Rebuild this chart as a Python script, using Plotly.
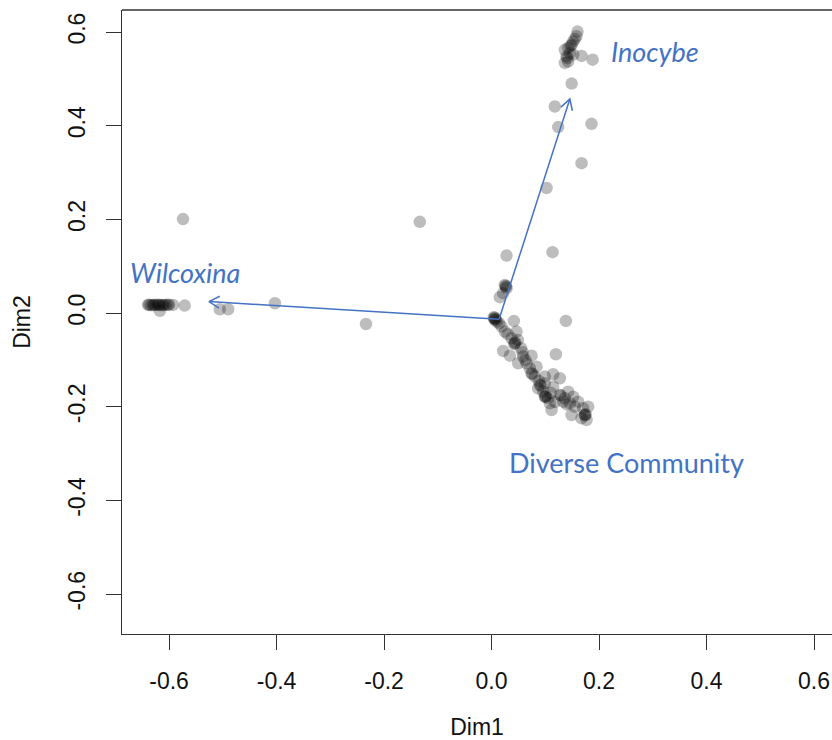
import plotly.graph_objects as go
import math

# ---- data: site scores (Dim1, Dim2) ----
dim1 = [
    # Wilcoxina group
    -0.639, -0.637, -0.634, -0.630, -0.628, -0.625, -0.6205, -0.619, -0.616, -0.612, -0.610, -0.606,
    -0.602, -0.600, -0.5926, -0.617, -0.5708,
    -0.574, -0.5057, -0.490, -0.403, -0.2336, -0.1335,
    # Inocybe group
    0.160, 0.158, 0.155, 0.152, 0.149, 0.147, 0.1426, 0.1364, 0.1457, 0.1396, 0.1410, 0.1426, 0.1364,
    0.152, 0.1675, 0.188,
    0.149, 0.1178, 0.124, 0.186, 0.1675, 0.1024,
    # upper part of diverse group
    0.0279, 0.1135, 0.0248, 0.0260, 0.0270, 0.0279, 0.0216, 0.0154, 0.0043, 0.0060, 0.0050,
    # diverse community
    0.0061, 0.0075, 0.0100, 0.0141, 0.0186, 0.0415, 0.1383, 0.0248, 0.0465, 0.0372, 0.0434, 0.0440,
    0.0420, 0.0489, 0.0216, 0.0341, 0.0577, 0.0588, 0.0744, 0.1197, 0.0495, 0.0651, 0.0837, 0.0713,
    0.0744, 0.0760, 0.0806, 0.0992, 0.1146, 0.1271, 0.0899, 0.0920, 0.0992, 0.1146, 0.0867, 0.0960,
    0.0992, 0.1000, 0.1010, 0.1053, 0.1271, 0.1290, 0.1426, 0.1519, 0.1364, 0.1612, 0.1085, 0.1117,
    0.1333, 0.1457, 0.1489, 0.1736, 0.1740, 0.1750, 0.1705, 0.1798, 0.1675, 0.1768, 0.0300, 0.0550,
    0.0630, 0.0880, 0.1100, 0.1180, 0.1400, 0.1550,
]
dim2 = [
    0.0175, 0.0180, 0.0170, 0.0175, 0.0170, 0.0180, 0.0175, 0.0180, 0.0170, 0.0175, 0.0170, 0.0180,
    0.0175, 0.0180, 0.0175, 0.005, 0.016,
    0.2006, 0.0083, 0.0083, 0.021, -0.0233, 0.1948,
    0.601, 0.591, 0.585, 0.580, 0.573, 0.570, 0.566, 0.562, 0.555, 0.548, 0.544, 0.537, 0.534,
    0.552, 0.549, 0.541,
    0.490, 0.441, 0.397, 0.404, 0.320, 0.267,
    0.1228, 0.1301, 0.0602, 0.0580, 0.0560, 0.0532, 0.0425, 0.0340, -0.0088, -0.0100, -0.0120,
    -0.0145, -0.0130, -0.0180, -0.0216, -0.0288, -0.0167, -0.0167, -0.0395, -0.0395, -0.0536, -0.0643, -0.0630,
    -0.0660, -0.0572, -0.0807, -0.0908, -0.0835, -0.0929, -0.0908, -0.0878, -0.1070, -0.1070, -0.1143, -0.1177,
    -0.1284, -0.1300, -0.1356, -0.1356, -0.1305, -0.1391, -0.1534, -0.1550, -0.1497, -0.1570, -0.1604, -0.1677,
    -0.1784, -0.1790, -0.1770, -0.1818, -0.1747, -0.1760, -0.1677, -0.1784, -0.1818, -0.1891, -0.1925, -0.2068,
    -0.1891, -0.1925, -0.2175, -0.2175, -0.2180, -0.2160, -0.2031, -0.1997, -0.2245, -0.2281, -0.0450, -0.0750,
    -0.1000, -0.1450, -0.1700, -0.1900, -0.1950, -0.2000,
]

# ---- data: vectors (arrows) ----
arrow_names = ["Inocybe", "Wilcoxina"]
arrow_x0 = [0.0141, 0.0141]
arrow_y0 = [-0.013, -0.013]
arrow_x1 = [0.1457, -0.5256]
arrow_y1 = [0.457, 0.0246]

# ---- data: labels ----
label_text = ["Inocybe", "Wilcoxina", "Diverse Community"]
label_x = [0.304, -0.5706, 0.2518]
label_y = [0.558, 0.0876, -0.318]
label_italic = [True, True, False]

tick_vals = [-0.6, -0.4, -0.2, 0.0, 0.2, 0.4, 0.6]
tick_text = ["-0.6", "-0.4", "-0.2", "0.0", "0.2", "0.4", "0.6"]

# ---- layout geometry ----
W, H = 832, 740
ML, MR, MT, MB = 122, 0, 10, 106
XR = [-0.6875, 0.6334]
YR = [-0.685, 0.647]
px_x = (W - ML - MR) / (XR[1] - XR[0])
px_y = (H - MT - MB) / (YR[1] - YR[0])

BLUE = "#4472C4"
AX = "#333333"
FONT = "Liberation Sans, Arial, sans-serif"

fig = go.Figure()

fig.add_trace(go.Scatter(
    x=dim1, y=dim2, mode="markers",
    marker=dict(size=12.5, color="rgba(0,0,0,0.26)", line=dict(width=0)),
    hoverinfo="skip", showlegend=False,
))

# arrows: shaft + open head (head geometry computed in pixel space)
head_len = 12.0
head_ang = math.radians(30)
for x0, y0, x1, y1 in zip(arrow_x0, arrow_y0, arrow_x1, arrow_y1):
    dxp = (x1 - x0) * px_x
    dyp = (y1 - y0) * px_y
    ang = math.atan2(dyp, dxp)
    hx, hy = [], []
    for s in (1, -1):
        a = ang + math.pi + s * head_ang
        hx.append(x1 + head_len * math.cos(a) / px_x)
        hy.append(y1 + head_len * math.sin(a) / px_y)
    fig.add_trace(go.Scatter(
        x=[x0, x1, None, hx[0], x1, hx[1]],
        y=[y0, y1, None, hy[0], y1, hy[1]],
        mode="lines", line=dict(color=BLUE, width=1.5),
        hoverinfo="skip", showlegend=False,
    ))

for t, x, y, it in zip(label_text, label_x, label_y, label_italic):
    fig.add_annotation(
        x=x, y=y, text=t, showarrow=False, xanchor="center", yanchor="middle",
        font=dict(family="Lato, Open Sans, sans-serif", size=27, color=BLUE,
                  style="italic" if it else "normal"),
    )

# top border
fig.add_shape(type="line", xref="paper", yref="paper", x0=0, x1=1, y0=1, y1=1,
              line=dict(color=AX, width=1.3))

fig.update_layout(
    width=W, height=H,
    margin=dict(l=ML, r=MR, t=MT, b=MB, pad=0),
    paper_bgcolor="white", plot_bgcolor="white",
    font=dict(family=FONT, size=23, color="#111111"),
    xaxis=dict(
        range=XR, showgrid=False, zeroline=False, showline=True, linecolor=AX, linewidth=1.3,
        ticks="outside", ticklen=15, tickwidth=1.3, tickcolor=AX,
        tickvals=tick_vals, ticktext=tick_text, ticklabelstandoff=11,
        title=dict(text="Dim1", standoff=26, font=dict(size=23)),
    ),
    yaxis=dict(
        range=YR, showgrid=False, zeroline=False, showline=True, linecolor=AX, linewidth=1.3,
        ticks="outside", ticklen=15, tickwidth=1.3, tickcolor=AX,
        tickvals=tick_vals, ticktext=tick_text, tickangle=-90, ticklabelstandoff=12,
        title=dict(text="Dim2", standoff=26, font=dict(size=23)),
    ),
)

fig.write_html("out.html")
